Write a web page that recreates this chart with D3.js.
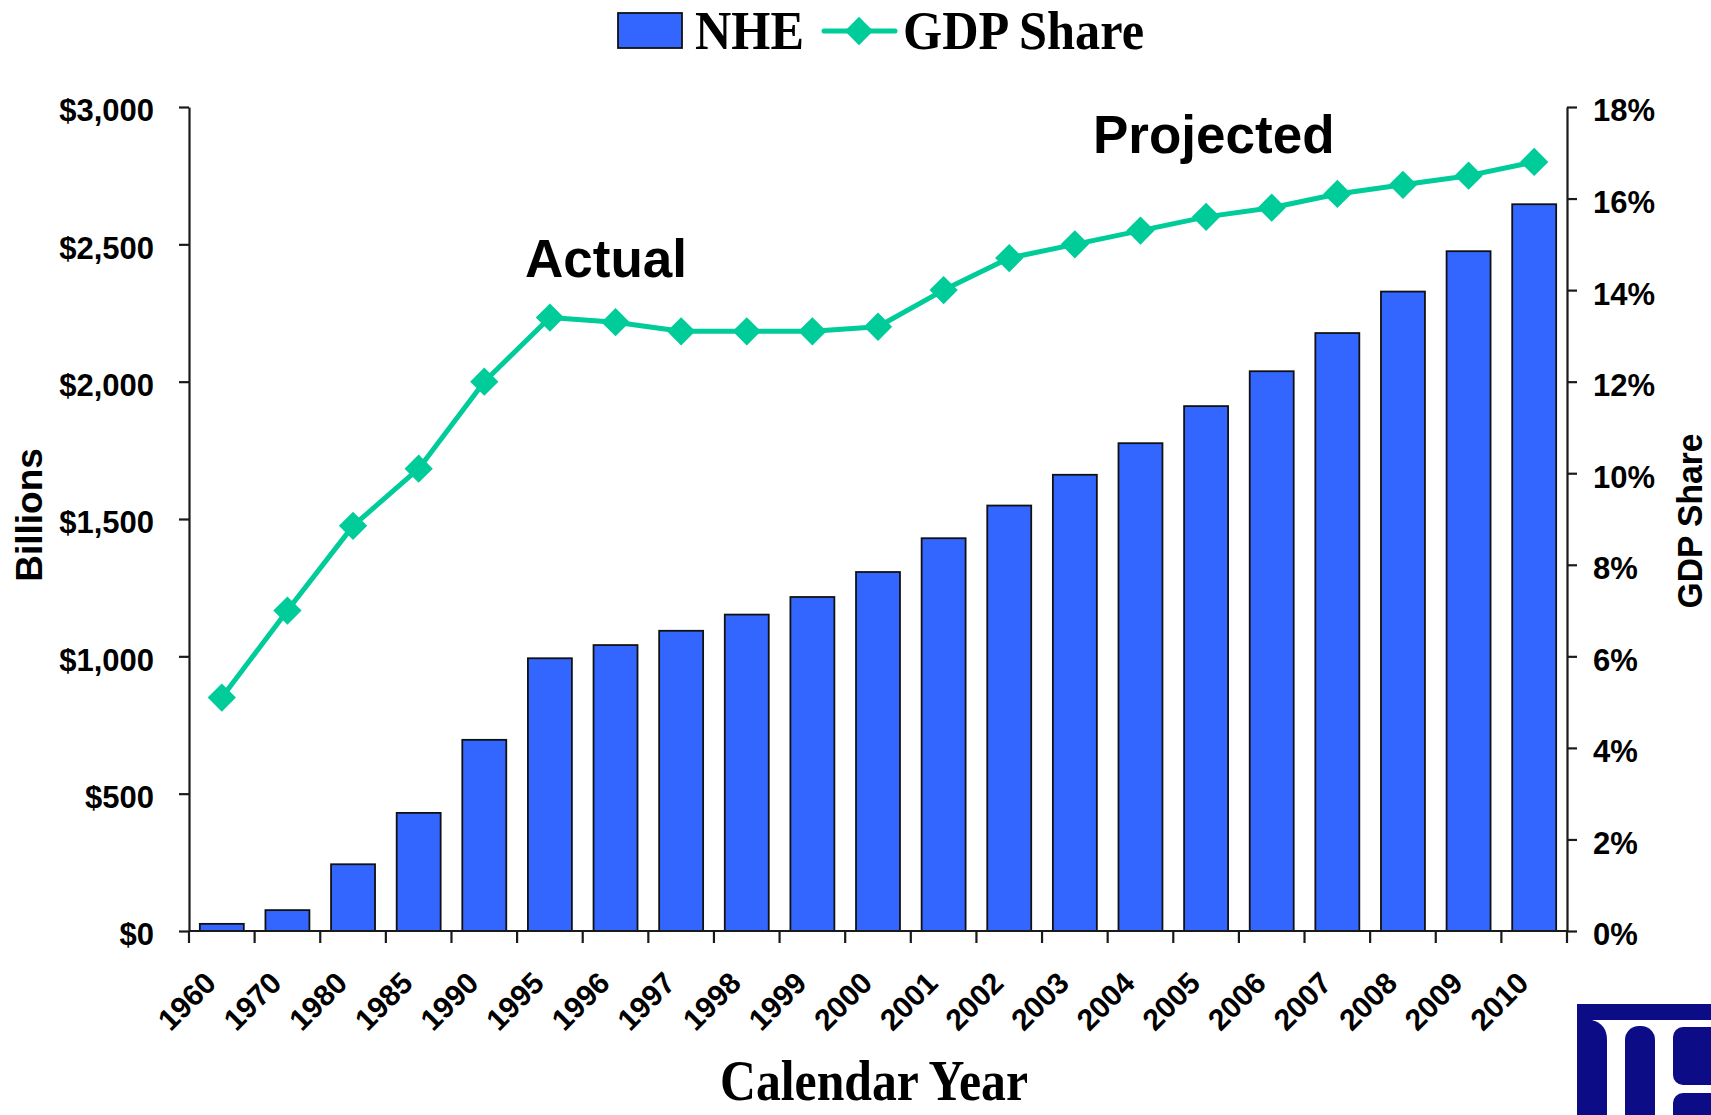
<!DOCTYPE html>
<html>
<head>
<meta charset="utf-8">
<script src="https://cdn.jsdelivr.net/npm/d3@7"></script>
<style>
  body { margin: 0; background: #ffffff; }
  svg { display: block; }
</style>
</head>
<body>
<svg id="chart" width="1711" height="1115"></svg>
<script>
// ---------------- data ----------------
const categories = ["1960","1970","1980","1985","1990","1995","1996","1997","1998","1999",
                    "2000","2001","2002","2003","2004","2005","2006","2007","2008","2009","2010"];
const nheBillions = [26, 76, 243, 430, 696, 993, 1041, 1093, 1152, 1216,
                     1307, 1430, 1549, 1661, 1776, 1911, 2038, 2177, 2328, 2475, 2646];
const gdpSharePct = [5.1, 7.0, 8.85, 10.1, 12.0, 13.4, 13.3, 13.1, 13.1, 13.1,
                     13.2, 14.0, 14.7, 15.0, 15.3, 15.6, 15.8, 16.1, 16.3, 16.5, 16.8];
const billionTicks = [0, 500, 1000, 1500, 2000, 2500, 3000];
const shareTicks = [0, 2, 4, 6, 8, 10, 12, 14, 16, 18];
const seriesNames = ["NHE", "GDP Share"];
const leftTitle = "Billions";
const rightTitle = "GDP Share";
const xTitle = "Calendar Year";
const periodLabels = ["Actual", "Projected"];

// ---------------- layout ----------------
const svg = d3.select("#chart");
const plot = { left: 189, right: 1567, top: 107, bottom: 931 };
const barColor = "#3366FF";
const lineColor = "#00CC99";
const axisColor = "#1a1a1a";
const sans = "'Liberation Sans', Arial, sans-serif";
const serif = "'Liberation Serif', 'Times New Roman', serif";

svg.append("rect").attr("width", 1711).attr("height", 1115).attr("fill", "#fff");

const x = d3.scaleBand().domain(categories)
  .range([plot.left, plot.right]).paddingInner(0.33).paddingOuter(0.165);
const yL = d3.scaleLinear().domain([0, 3000]).range([plot.bottom, plot.top]);
const yR = d3.scaleLinear().domain([0, 18]).range([plot.bottom, plot.top]);
const step = x.step();
const bw = x.bandwidth();

// ---------------- bars ----------------
svg.append("g").selectAll("rect").data(categories).join("rect")
  .attr("x", (c) => x(c))
  .attr("y", (c, i) => yL(nheBillions[i]))
  .attr("width", bw)
  .attr("height", (c, i) => yL(0) - yL(nheBillions[i]))
  .attr("fill", barColor)
  .attr("stroke", "#111")
  .attr("stroke-width", 1.8);

// ---------------- axes ----------------
function styleAxis(g, fs) {
  g.select(".domain").attr("stroke", axisColor).attr("stroke-width", 2.2);
  g.selectAll(".tick line").attr("stroke", axisColor).attr("stroke-width", 2.2);
  g.selectAll(".tick text").attr("font-family", sans).attr("font-weight", "bold")
    .attr("font-size", fs).attr("fill", "#000");
}

const gL = svg.append("g").attr("transform", `translate(${plot.left},0)`)
  .call(d3.axisLeft(yL).tickValues(billionTicks).tickSize(10).tickSizeOuter(0).tickPadding(25)
    .tickFormat((d) => "$" + d3.format(",")(d)));
styleAxis(gL, 31);
gL.selectAll(".tick text").attr("dy", "0.45em");

const gR = svg.append("g").attr("transform", `translate(${plot.right},0)`)
  .call(d3.axisRight(yR).tickValues(shareTicks).tickSize(10).tickSizeOuter(0).tickPadding(16)
    .tickFormat((d) => d + "%"));
styleAxis(gR, 31);
gR.selectAll(".tick text").attr("dy", "0.45em");

// x axis: labels from the band scale, tick marks at the band boundaries
const gX = svg.append("g").attr("transform", `translate(0,${plot.bottom})`)
  .call(d3.axisBottom(x).tickSize(0).tickSizeOuter(0));
styleAxis(gX, 30);
gX.select(".domain").remove();
gX.selectAll(".tick text")
  .attr("text-anchor", "end")
  .attr("dy", 0).attr("y", 0).attr("x", 0)
  .attr("transform", "translate(-4,54) rotate(-45)");

const boundaries = d3.range(categories.length + 1).map((i) => x(categories[0]) - step * x.paddingOuter() + i * step);
svg.append("line").attr("x1", plot.left).attr("x2", plot.right)
  .attr("y1", plot.bottom).attr("y2", plot.bottom)
  .attr("stroke", axisColor).attr("stroke-width", 2.2);
svg.append("g").selectAll("line").data(boundaries).join("line")
  .attr("x1", (d) => d).attr("x2", (d) => d)
  .attr("y1", plot.bottom).attr("y2", plot.bottom + 12)
  .attr("stroke", axisColor).attr("stroke-width", 2.2);

// ---------------- GDP share line ----------------
const cx = (c) => x(c) + bw / 2;
const line = d3.line().x((d, i) => cx(categories[i])).y((d) => yR(d));
svg.append("path").datum(gdpSharePct).attr("d", line)
  .attr("fill", "none").attr("stroke", lineColor).attr("stroke-width", 5)
  .attr("stroke-linejoin", "round");
const diamond = d3.symbol().type(d3.symbolSquare).size(400);
svg.append("g").selectAll("path").data(gdpSharePct).join("path")
  .attr("d", diamond)
  .attr("transform", (d, i) => `translate(${cx(categories[i])},${yR(d)}) rotate(45)`)
  .attr("fill", lineColor);

// ---------------- titles ----------------
svg.append("text").text(leftTitle)
  .attr("transform", "translate(42,515) rotate(-90)")
  .attr("text-anchor", "middle").attr("font-family", sans).attr("font-weight", "bold")
  .attr("font-size", 37).attr("fill", "#000");
svg.append("text").text(rightTitle)
  .attr("transform", "translate(1702,521) rotate(-90)")
  .attr("text-anchor", "middle").attr("font-family", sans).attr("font-weight", "bold")
  .attr("font-size", 35).attr("textLength", 175).attr("lengthAdjust", "spacingAndGlyphs")
  .attr("fill", "#000");
svg.append("text").text(xTitle)
  .attr("x", 874).attr("y", 1100)
  .attr("text-anchor", "middle").attr("font-family", serif).attr("font-weight", "bold")
  .attr("font-size", 58).attr("textLength", 308).attr("lengthAdjust", "spacingAndGlyphs")
  .attr("fill", "#000");

svg.append("text").text(periodLabels[0])
  .attr("x", 525).attr("y", 277)
  .attr("font-family", sans).attr("font-weight", "bold").attr("font-size", 53).attr("fill", "#000");
svg.append("text").text(periodLabels[1])
  .attr("x", 1093).attr("y", 153)
  .attr("font-family", sans).attr("font-weight", "bold").attr("font-size", 53).attr("fill", "#000");

// ---------------- legend ----------------
const lg = svg.append("g");
lg.append("rect").attr("x", 618).attr("y", 13).attr("width", 64).attr("height", 35)
  .attr("fill", barColor).attr("stroke", "#111").attr("stroke-width", 1.8);
lg.append("text").text(seriesNames[0]).attr("x", 695).attr("y", 49)
  .attr("font-family", serif).attr("font-weight", "bold").attr("font-size", 55)
  .attr("textLength", 109).attr("lengthAdjust", "spacingAndGlyphs").attr("fill", "#000");
lg.append("line").attr("x1", 824).attr("x2", 895).attr("y1", 31).attr("y2", 31)
  .attr("stroke", lineColor).attr("stroke-width", 5).attr("stroke-linecap", "round");
lg.append("path").attr("d", diamond).attr("transform", "translate(859,31) rotate(45)").attr("fill", lineColor);
lg.append("text").text(seriesNames[1]).attr("x", 903).attr("y", 49)
  .attr("font-family", serif).attr("font-weight", "bold").attr("font-size", 55)
  .attr("textLength", 241).attr("lengthAdjust", "spacingAndGlyphs").attr("fill", "#000");

// ---------------- logo fragment (bottom right) ----------------
const logo = svg.append("g");
const navy = "#0c0c86";
logo.append("rect").attr("x", 1577).attr("y", 1004).attr("width", 140).attr("height", 120).attr("fill", navy);
logo.append("rect").attr("x", 1590).attr("y", 1020).attr("width", 130).attr("height", 100).attr("fill", "#fff");
logo.append("path").attr("d", "M1577,1020 L1592,1020 Q1607,1024 1607,1040 L1607,1120 L1577,1120 Z").attr("fill", navy);
logo.append("rect").attr("x", 1625).attr("y", 1026).attr("width", 30).attr("height", 110).attr("rx", 14).attr("fill", navy);
logo.append("rect").attr("x", 1673).attr("y", 1027).attr("width", 50).attr("height", 58).attr("rx", 10).attr("fill", navy);
logo.append("rect").attr("x", 1673).attr("y", 1093).attr("width", 50).attr("height", 40).attr("rx", 10).attr("fill", navy);
</script>
</body>
</html>
